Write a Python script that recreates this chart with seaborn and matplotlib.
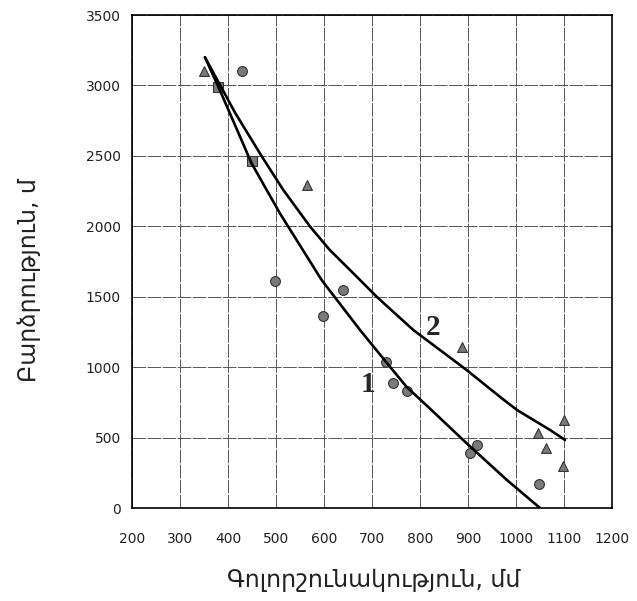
import matplotlib
matplotlib.use("Agg")
import matplotlib.pyplot as plt
import seaborn as sns
import pandas as pd

# --- data ---
circle_x = [430, 497, 597, 640, 730, 743, 772, 905, 918, 1048]
circle_y = [3100, 1615, 1360, 1545, 1035, 885, 830, 390, 450, 170]

triangle_x = [350, 565, 887, 1045, 1063, 1097, 1100]
triangle_y = [3100, 2290, 1145, 530, 425, 300, 625]

square_x = [380, 450]
square_y = [2990, 2465]

curve1_x = [352, 380, 425, 449, 508, 595, 675, 731, 772, 821, 897, 981, 1050]
curve1_y = [3200, 2990, 2637, 2448, 2093, 1619, 1264, 1030, 860, 705, 460, 199, 0]

curve2_x = [352, 415, 471, 515, 571, 612, 668, 710, 786, 897, 970, 1002, 1071, 1102]
curve2_y = [3200, 2805, 2493, 2259, 1998, 1832, 1643, 1499, 1264, 980, 780, 696, 554, 483]

x_ticks = [200, 300, 400, 500, 600, 700, 800, 900, 1000, 1100, 1200]
y_ticks = [0, 500, 1000, 1500, 2000, 2500, 3000, 3500]

x_label = "Գոլորշունակություն, մմ"
y_label = "Բարձրություն, մ"
curve_labels = ["1", "2"]

sns.set_style("white")
plt.rcParams['font.family'] = ['DejaVu Sans']

fig = plt.figure(figsize=(6.37, 6.01), dpi=100)
ax = fig.add_axes([0.2072, 0.1547, 0.7536, 0.8203])

# grid
ax.set_xticks(x_ticks)
ax.set_yticks(y_ticks)
ax.grid(True, color="#555555", linewidth=0.7, linestyle=(0, (14, 1.5)))
ax.set_axisbelow(True)

mcol = "#7a7a7a"
ecol = "#333333"
sns.scatterplot(x=circle_x, y=circle_y, ax=ax, marker="o", s=50,
                color=mcol, edgecolor=ecol, linewidth=0.8, zorder=3)
sns.scatterplot(x=triangle_x, y=triangle_y, ax=ax, marker="^", s=50,
                color=mcol, edgecolor=ecol, linewidth=0.8, zorder=3)
sns.scatterplot(x=square_x, y=square_y, ax=ax, marker="s", s=55,
                color=mcol, edgecolor=ecol, linewidth=0.8, zorder=3)

df1 = pd.DataFrame({"x": curve1_x, "y": curve1_y})
df2 = pd.DataFrame({"x": curve2_x, "y": curve2_y})
sns.lineplot(data=df1, x="x", y="y", ax=ax, color="black", linewidth=1.9,
             sort=False, estimator=None, zorder=4)
sns.lineplot(data=df2, x="x", y="y", ax=ax, color="black", linewidth=1.9,
             sort=False, estimator=None, zorder=4)

ax.text(692, 874, curve_labels[0], fontsize=21, fontweight="bold",
        family="Liberation Serif", ha="center", va="center")
ax.text(827, 1285, curve_labels[1], fontsize=21, fontweight="bold",
        family="Liberation Serif", ha="center", va="center")

ax.set_xlim(200, 1200)
ax.set_ylim(0, 3500)

for s in ax.spines.values():
    s.set_visible(True)
    s.set_color("black")
    s.set_linewidth(1.2)

ax.tick_params(axis="both", direction="out", length=4, width=0.8,
               color="black", labelsize=10, labelcolor="#222222")
ax.tick_params(axis="x", pad=13)
ax.tick_params(axis="y", pad=4)

ax.set_xlabel("")
ax.set_ylabel("")
fig.text(374 / 637, 1 - 580 / 601, x_label, fontsize=17, ha="center",
         va="center", color="#222222")
fig.text(29 / 637, 1 - 280 / 601, y_label, fontsize=17, ha="center",
         va="center", rotation=90, color="#222222")

fig.savefig("out.png", dpi=100)
